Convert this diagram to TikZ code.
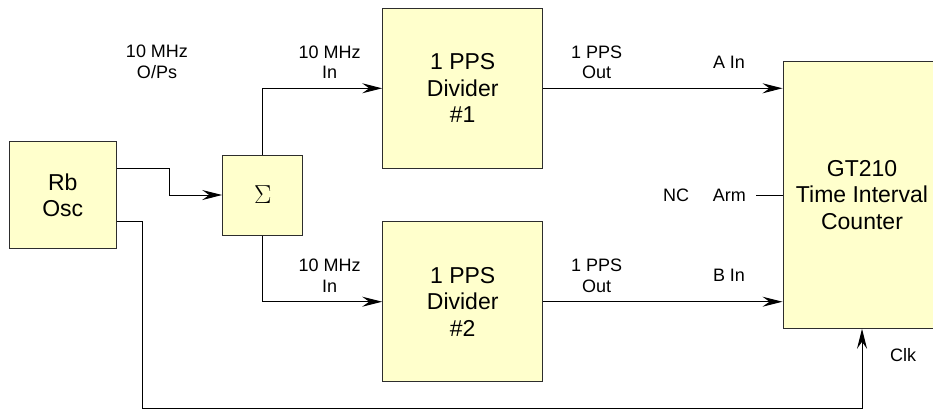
\documentclass[tikz,border=0pt]{standalone}
\usepackage{fix-cm}
\usepackage[no-math]{fontspec}
\setmainfont{Liberation Sans}
\usetikzlibrary{arrows.meta, calc}
\definecolor{boxfill}{RGB}{255,255,204}
\definecolor{boxline}{RGB}{45,45,45}
\tikzstyle{block} = [rectangle, draw=boxline, fill=boxfill, line width=1pt,
                     inner sep=0pt, align=center,
                     font=\fontsize{23}{26.4}\selectfont]
\tikzstyle{wire}  = [line width=1pt, draw=black]
\tikzstyle{arr}   = [wire, -{Stealth[length=20pt,width=10pt,inset=7pt]}]

\begin{document}
\begin{tikzpicture}[
  x=1pt, y=-1pt,
  lbl/.style={align=center, inner sep=0pt,
              font=\fontsize{18}{20.7}\selectfont},
  sq/.style={block, minimum width=#1, minimum height=#1}
]
\useasboundingbox (0,0) rectangle (933,408);
\node[sq=106.7] (rb)   at (62.7,195)   {Rb\\Osc};
\node[sq=80]    (sum)  at (262.7,195)  {\fontsize{26}{30}\selectfont$\Sigma$};
\node[sq=160]   (div1) at (462.7,88.3) {1 PPS\\Divider\\\#1};
\node[sq=160]   (div2) at (462.7,301.7) {1 PPS\\Divider\\\#2};
\node[block, minimum width=158, minimum height=266.6] (tic) at (862,195)
     {GT210\\Time Interval\\Counter};
\node[lbl] (osclbl) at (157,62)      {10 MHz\\O/Ps};
\node[lbl] (in1)    at (329.7,62.3)  {10 MHz\\In};
\node[lbl] (in2)    at (329.7,275.5) {10 MHz\\In};
\node[lbl] (out1)   at (596.7,62.3)  {1 PPS\\Out};
\node[lbl] (out2)   at (596.7,275.5) {1 PPS\\Out};
\node[lbl] (ain)    at (729,62.5)    {A In};
\node[lbl] (bin)    at (729,275.5)   {B In};
\node[lbl] (arm)    at (729.3,195.5) {Arm};
\node[lbl] (nc)     at (676,195.5)   {NC};
\node[lbl] (clk)    at (903,355.5)   {Clk};
\coordinate (base)   at (142.7,408.3);
\coordinate (armend) at (756,195);
\draw[arr] ([yshift=26.7pt]rb.east) -- ++(53.3,0) |- (sum.west);
\draw[arr] ([yshift=-26.7pt]rb.east) -| (base) -| (tic.south);
\draw[arr] (sum.north) |- (div1.west);
\draw[arr] (sum.south) |- (div2.west);
\draw[arr] (div1.east) -- (div1.east -| tic.west);
\draw[arr] (div2.east) -- (div2.east -| tic.west);
\draw[wire] (armend) -- (tic.west);
\end{tikzpicture}
\end{document}
